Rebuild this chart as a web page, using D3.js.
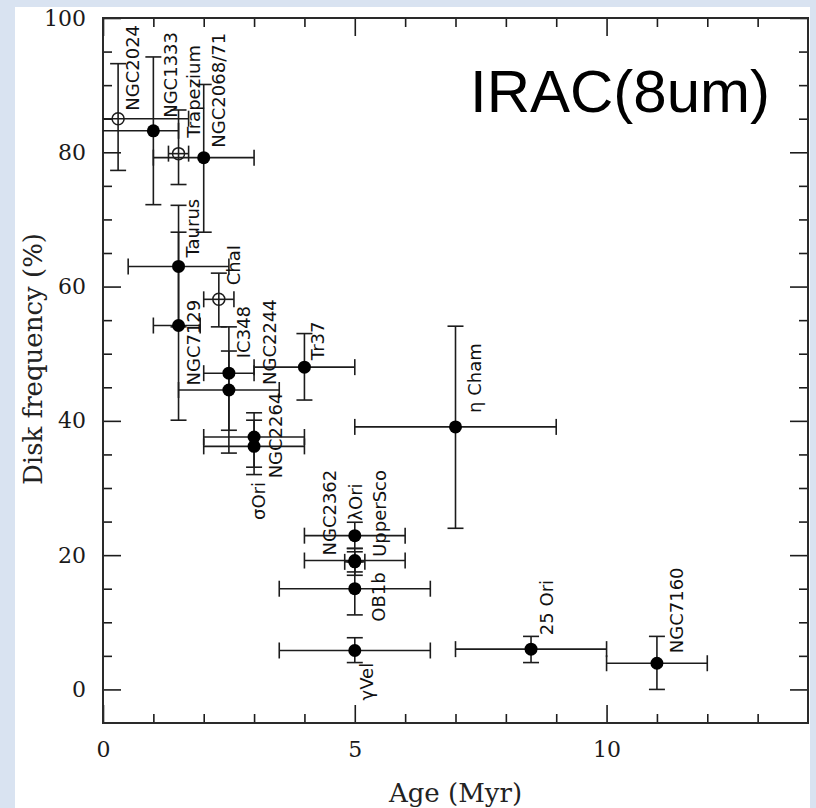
<!DOCTYPE html>
<html>
<head>
<meta charset="utf-8">
<script src="https://cdn.jsdelivr.net/npm/d3@7/dist/d3.min.js"></script>
<style>
  html, body { margin: 0; padding: 0; background: #d9e3f1; }
  svg { display: block; }
</style>
</head>
<body>
<div id="chart"></div>
<script>
// =============================================================================
// Data - read off the IRAC(8um) disk frequency vs age figure
// =============================================================================
const clusters = ['NGC2024', 'NGC1333', 'Trapezium', 'NGC2068/71', 'Taurus', 'ChaI',
    'NGC7129', 'IC348', 'NGC2244', 'NGC2264', 'σOri', 'Tr37', 'η Cham', 'NGC2362',
    'λOri', 'UpperSco', 'OB1b', 'γVel', '25 Ori', 'NGC7160'];
const ages     = [0.3, 1.0, 1.5, 2.0, 1.5, 2.3, 1.5, 2.5, 2.5, 3.0, 3.0, 4.0, 7.0, 5.0, 5.0, 5.0, 5.0, 5.0, 8.5, 11.0];
const ageLo    = [0.0, 0.0, 1.3, 1.0, 0.5, 2.0, 1.0, 2.0, 1.5, 2.0, 2.0, 3.0, 5.0, 4.0, 4.0, 4.8, 3.5, 3.5, 7.0, 10.0];
const ageHi    = [1.7, 1.5, 1.7, 3.0, 2.5, 2.6, 1.93, 3.0, 3.5, 4.0, 4.0, 5.0, 9.0, 6.0, 6.0, 5.2, 6.5, 6.5, 10.0, 12.0];
const freqs    = [85.0, 83.2, 79.8, 79.2, 63.0, 58.1, 54.2, 47.1, 44.6, 36.2, 37.6, 48.0, 39.1, 19.2, 22.9, 19.0, 15.0, 5.8, 6.0, 3.9];
const freqLo   = [77.3, 72.2, 75.2, 68.1, 54.0, 54.0, 40.1, 38.6, 35.2, 32.0, 33.1, 43.1, 24.0, 17.0, 21.0, 17.5, 11.1, 4.0, 4.0, 0.0];
const freqHi   = [93.2, 94.2, 86.3, 90.1, 72.1, 62.0, 68.1, 50.4, 54.0, 40.1, 41.2, 53.0, 54.1, 21.0, 24.9, 20.5, 19.0, 7.7, 7.9, 7.9];
const openSymbol = [true, false, true, false, false, true, false, false, false, false,
    false, false, false, false, false, false, false, false, false, false];

const xMajorTicks = [0, 5, 10];
const yMajorTicks = [0, 20, 40, 60, 80, 100];

// Label placement (pixels from the point, rotated text reads bottom to top)
const labelOffsets = [[21, -8], [24, -13], [21, -16], [21, -10], [20, -9], [21, -14],
    [21, 60], [21, -15], [47, -5], [28, 32], [11, 83], [20, -7], [25, -14], [-19, -5],
    [7, -15], [31, -5], [30, 33], [18, 50], [22, -14], [26, -10]];

// =============================================================================
// Visual configuration
// =============================================================================
const W = 816, H = 808;
const frame = { left: 103, right: 808, top: 18, bottom: 723 };
const INK = '#1c1c1c';
const DOT_R = 6.5;
const CAP = 8;
const MAJOR = 18, MINOR = 9;
const SERIF = '"DejaVu Serif", serif';

const svg = d3.select('#chart').append('svg')
    .attr('width', W)
    .attr('height', H);

// slide background and white picture area
svg.append('rect').attr('width', W).attr('height', H).attr('fill', '#d9e3f1');
svg.append('rect')
    .attr('x', 15).attr('y', 7)
    .attr('width', 795).attr('height', H - 7)
    .attr('fill', '#ffffff');

const x = d3.scaleLinear().domain([0, 14]).range([frame.left, frame.right]);
const y = d3.scaleLinear().domain([-5, 100]).range([frame.bottom, frame.top]);

// Axes: ticks point inward on all four sides
const xMinor = d3.range(1, 14).filter(v => v % 5 !== 0);
const yMinor = d3.range(5, 100, 5).filter(v => v % 20 !== 0);

function styleAxis(g) {
    g.select('.domain').remove();
    g.selectAll('.tick line').attr('stroke', INK).attr('stroke-width', 1.6);
    g.selectAll('.tick text')
        .attr('fill', '#1a1a1a')
        .attr('font-family', SERIF)
        .attr('font-size', 22);
}

svg.append('g').attr('transform', `translate(0,${frame.bottom})`)
    .call(d3.axisBottom(x).tickValues(xMajorTicks).tickSize(-MAJOR).tickPadding(18).tickFormat(d3.format('d')))
    .call(styleAxis);
svg.append('g').attr('transform', `translate(0,${frame.bottom})`)
    .call(d3.axisBottom(x).tickValues(xMinor).tickSize(-MINOR).tickFormat(''))
    .call(styleAxis);
svg.append('g').attr('transform', `translate(0,${frame.top})`)
    .call(d3.axisTop(x).tickValues(xMajorTicks).tickSize(-MAJOR).tickFormat(''))
    .call(styleAxis);
svg.append('g').attr('transform', `translate(0,${frame.top})`)
    .call(d3.axisTop(x).tickValues(xMinor).tickSize(-MINOR).tickFormat(''))
    .call(styleAxis);

svg.append('g').attr('transform', `translate(${frame.left},0)`)
    .call(d3.axisLeft(y).tickValues(yMajorTicks).tickSize(-MAJOR).tickPadding(17).tickFormat(d3.format('d')))
    .call(styleAxis);
svg.append('g').attr('transform', `translate(${frame.left},0)`)
    .call(d3.axisLeft(y).tickValues(yMinor).tickSize(-MINOR).tickFormat(''))
    .call(styleAxis);
svg.append('g').attr('transform', `translate(${frame.right},0)`)
    .call(d3.axisRight(y).tickValues(yMajorTicks).tickSize(-MAJOR).tickFormat(''))
    .call(styleAxis);
svg.append('g').attr('transform', `translate(${frame.right},0)`)
    .call(d3.axisRight(y).tickValues(yMinor).tickSize(-MINOR).tickFormat(''))
    .call(styleAxis);

svg.append('rect')
    .attr('x', frame.left).attr('y', frame.top)
    .attr('width', frame.right - frame.left)
    .attr('height', frame.bottom - frame.top)
    .attr('fill', 'none')
    .attr('stroke', '#2a2a2a')
    .attr('stroke-width', 2);

// Axis titles
svg.append('text')
    .attr('x', (frame.left + frame.right) / 2).attr('y', 802)
    .attr('text-anchor', 'middle')
    .attr('font-family', SERIF)
    .attr('font-size', 26)
    .attr('fill', '#222')
    .text('Age (Myr)');

svg.append('text')
    .attr('transform', 'translate(42,359) rotate(-90)')
    .attr('text-anchor', 'middle')
    .attr('font-family', SERIF)
    .attr('font-size', 26)
    .attr('fill', '#222')
    .text('Disk frequency (%)');

// Big panel title
svg.append('text')
    .attr('x', 470).attr('y', 112)
    .attr('font-family', '"Liberation Sans", Arial, sans-serif')
    .attr('font-size', 60)
    .attr('fill', '#000')
    .text('IRAC(8um)');

// Error bars and symbols
const data = clusters.map((name, i) => ({
    name, age: ages[i], freq: freqs[i],
    ageLo: ageLo[i], ageHi: ageHi[i], freqLo: freqLo[i], freqHi: freqHi[i],
    open: openSymbol[i], off: labelOffsets[i]
}));

const bars = svg.append('g')
    .attr('stroke', INK)
    .attr('stroke-width', 1.6)
    .attr('fill', 'none');

data.forEach(d => {
    const cx = x(d.age), cy = y(d.freq);
    // horizontal bar
    bars.append('line').attr('x1', x(d.ageLo)).attr('x2', x(d.ageHi)).attr('y1', cy).attr('y2', cy);
    [d.ageLo, d.ageHi].forEach(v => {
        if (v > 0) {
            bars.append('line').attr('x1', x(v)).attr('x2', x(v)).attr('y1', cy - CAP).attr('y2', cy + CAP);
        }
    });
    // vertical bar
    bars.append('line').attr('x1', cx).attr('x2', cx).attr('y1', y(d.freqLo)).attr('y2', y(d.freqHi));
    [d.freqLo, d.freqHi].forEach(v => {
        bars.append('line').attr('x1', cx - CAP).attr('x2', cx + CAP).attr('y1', y(v)).attr('y2', y(v));
    });
});

svg.append('g')
    .selectAll('circle')
    .data(data)
    .enter()
    .append('circle')
    .attr('cx', d => x(d.age))
    .attr('cy', d => y(d.freq))
    .attr('r', d => d.open ? 6 : DOT_R)
    .attr('fill', d => d.open ? 'none' : '#000')
    .attr('stroke', d => d.open ? INK : 'none')
    .attr('stroke-width', 1.5);

// Cluster names, rotated
svg.append('g')
    .selectAll('text')
    .data(data)
    .enter()
    .append('text')
    .attr('transform', d => `translate(${x(d.age) + d.off[0]},${y(d.freq) + d.off[1]}) rotate(-90)`)
    .attr('font-family', '"DejaVu Sans", sans-serif')
    .attr('font-size', 18)
    .attr('fill', '#111')
    .text(d => d.name);
</script>
</body>
</html>
